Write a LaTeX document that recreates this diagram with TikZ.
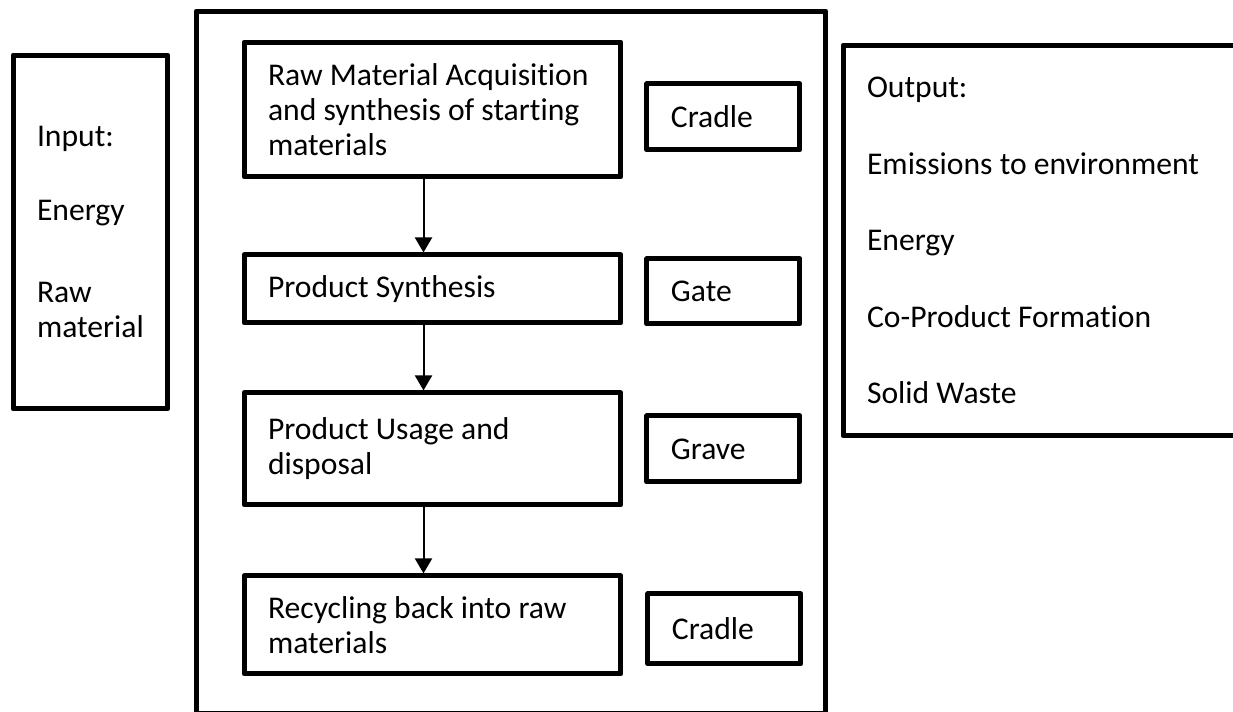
\documentclass[tikz,border=0pt]{standalone}
\usepackage{fontspec}
\setmainfont{Carlito}[Ligatures=NoCommon]
\usetikzlibrary{positioning,arrows.meta}

\tikzset{
    every node/.style={font=\fontsize{18}{20}\selectfont},
    framebox/.style={draw, line width=0.1cm, line join=round},
    stagebox/.style={framebox, minimum width=7.54cm, text width=6.58cm, inner xsep=0.48cm, align=flush left},
    tagbox/.style={framebox, minimum width=3.06cm, text width=2.1cm, inner xsep=0.48cm, align=flush left},
    flow/.style={line width=0.04cm, -{Triangle[length=0.3cm,width=0.34cm]}},
}

\begin{document}
\begin{tikzpicture}[x=0.02cm, y=-0.02cm]
    \useasboundingbox (0,0) rectangle (1233,712);
    % outer boxes
    \node[framebox, minimum width=12.6cm, minimum height=14.06cm] (lifecycle) at (511,362.5) {};
    \node[framebox, minimum width=3.1cm, minimum height=7.08cm, text width=2.14cm, inner xsep=0.48cm, align=flush left] (input) at (90.5,232)
        {Input:\\[0.77cm]Energy\\[0.93cm]Raw\\material};
    \node[framebox, minimum width=8.34cm, minimum height=7.82cm, text width=7.38cm, inner xsep=0.48cm, align=flush left] (output) at (1051.5,240.5)
        {Output:\\[0.83cm]Emissions to environment\\[0.83cm]Energy\\[0.83cm]Co-Product Formation\\[0.83cm]Solid Waste};
    % stages
    \node[stagebox, minimum height=2.7cm] (acq) at (432.5,109.5) {Raw Material Acquisition\\and synthesis of starting\\materials};
    \node[stagebox, minimum height=1.36cm, below=1.46cm of acq] (synth) {Product Synthesis};
    \node[stagebox, minimum height=2.24cm, below=1.3cm of synth] (usage) {Product Usage and\\disposal};
    \node[stagebox, minimum height=1.96cm, below=1.32cm of usage] (recyc) {Recycling back into raw\\materials};
    % tags
    \node[tagbox, minimum height=1.32cm, right=0.42cm of acq, yshift=-0.15cm] (cradle) {Cradle};
    \node[tagbox, minimum height=1.3cm, right=0.42cm of synth, yshift=-0.05cm] (gate) {Gate};
    \node[tagbox, minimum height=1.32cm, right=0.42cm of usage] (grave) {Grave};
    \node[tagbox, minimum height=1.4cm, right=0.44cm of recyc, yshift=-0.08cm] (recradle) {Cradle};
    % arrows
    \foreach \a/\b in {acq/synth, synth/usage, usage/recyc}
        \draw[flow] ([xshift=-0.18cm]\a.south) -- ([xshift=-0.18cm]\b.north);
\end{tikzpicture}
\end{document}
